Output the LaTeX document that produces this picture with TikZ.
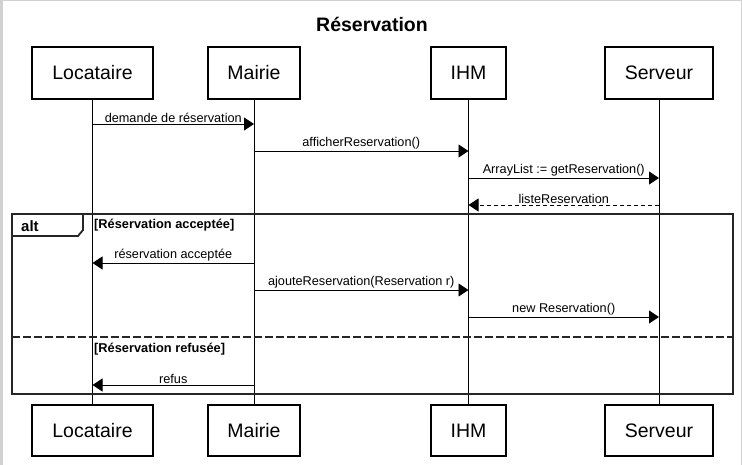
\documentclass[tikz,border=0pt]{standalone}
\usepackage{fontspec}
\setmainfont{Liberation Sans}
\usetikzlibrary{arrows.meta}
\begin{document}
\begin{tikzpicture}[x=1pt,y=-1pt,
  actor/.style={draw=black,line width=1.2pt,fill=white,minimum height=52pt,inner sep=0pt,font=\fontsize{19.5}{22}\selectfont},
  life/.style={draw=black,line width=0.9pt},
  msg/.style={draw=black,line width=0.9pt,-{Triangle[length=10pt,width=13pt]}},
  ret/.style={msg,dash pattern=on 4pt off 3pt},
  lbl/.style={font=\fontsize{12.7}{14}\selectfont,inner sep=1pt,anchor=south},
  guard/.style={font=\bfseries\fontsize{12.8}{14}\selectfont,anchor=west,inner sep=0pt},
  frameline/.style={draw=black!85,line width=1.8pt}
]
\useasboundingbox (0,0) rectangle (742,465);
\fill[white] (0,0) rectangle (742,465);
% outer gray border
\fill[black!18] (0,0) rectangle (3,465);
\fill[black!18] (0,0) rectangle (742,1.5);
\fill[black!18] (740.5,0) rectangle (742,465);

\node[font=\bfseries\fontsize{19.5}{22}\selectfont] (title) at (372,24) {Réservation};

% actor boxes top
\node[actor,minimum width=121pt] (locT) at (92.5,73) {Locataire};
\node[actor,minimum width=92pt] (maiT) at (254,73) {Mairie};
\node[actor,minimum width=75pt] (ihmT) at (468.5,73) {IHM};
\node[actor,minimum width=108pt] (serT) at (659,73) {Serveur};
% actor boxes bottom
\node[actor,minimum width=121pt,minimum height=51pt] (locB) at (92.5,430.5) {Locataire};
\node[actor,minimum width=92pt,minimum height=51pt] (maiB) at (254,430.5) {Mairie};
\node[actor,minimum width=75pt,minimum height=51pt] (ihmB) at (468.5,430.5) {IHM};
\node[actor,minimum width=108pt,minimum height=51pt] (serB) at (659,430.5) {Serveur};

% lifelines
\draw[life] (locT.south) -- (locB.north);
\draw[life] (maiT.south) -- (maiB.north);
\draw[life] (ihmT.south) -- (ihmB.north);
\draw[life] (serT.south) -- (serB.north);

% lifeline coordinates for messages
\coordinate (l1) at (92.5,124); \coordinate (m1) at (254,124);
\coordinate (m2) at (254,151); \coordinate (i2) at (468.5,151);
\coordinate (i3) at (468.5,178); \coordinate (s3) at (659,178);
\coordinate (s4) at (659,205); \coordinate (i4) at (468.5,205);
\coordinate (m6) at (254,263); \coordinate (l6) at (92.5,263);
\coordinate (m7) at (254,290); \coordinate (i7) at (468.5,290);
\coordinate (i8) at (468.5,317); \coordinate (s8) at (659,317);
\coordinate (m11) at (254,385); \coordinate (l11) at (92.5,385);

\draw[msg] (l1) -- node[lbl] (t1) {demande de réservation} (m1);
\draw[msg] (m2) -- node[lbl] (t2) {afficherReservation()} (i2);
\draw[msg] (i3) -- node[lbl] (t3) {ArrayList := getReservation()} (s3);
\draw[ret] (s4) -- node[lbl] (t4) {listeReservation} (i4);

% alt frame
\coordinate (fTL) at (12,214);
\coordinate (fBR) at (733,394);
\draw[frameline] (fTL) rectangle (fBR);
\draw[frameline,line join=miter] (12,236) -- (78,236) -- (83,230) -- (83,214);
\node[font=\bfseries\fontsize{15}{17}\selectfont,anchor=west,inner sep=0pt] (alt) at (21,226.5) {alt};
\node[guard] (g1) at (94,225) {[Réservation acceptée]};

\draw[msg] (m6) -- node[lbl] (t6) {réservation acceptée} (l6);
\draw[msg] (m7) -- node[lbl] (t7) {ajouteReservation(Reservation r)} (i7);
\draw[msg] (i8) -- node[lbl] (t8) {new Reservation()} (s8);

\draw[frameline,dash pattern=on 8pt off 3pt] (12,337) -- (733,337);
\node[guard] (g2) at (94,349) {[Réservation refusée]};

\draw[msg] (m11) -- node[lbl] (t11) {refus} (l11);
\end{tikzpicture}
\end{document}
